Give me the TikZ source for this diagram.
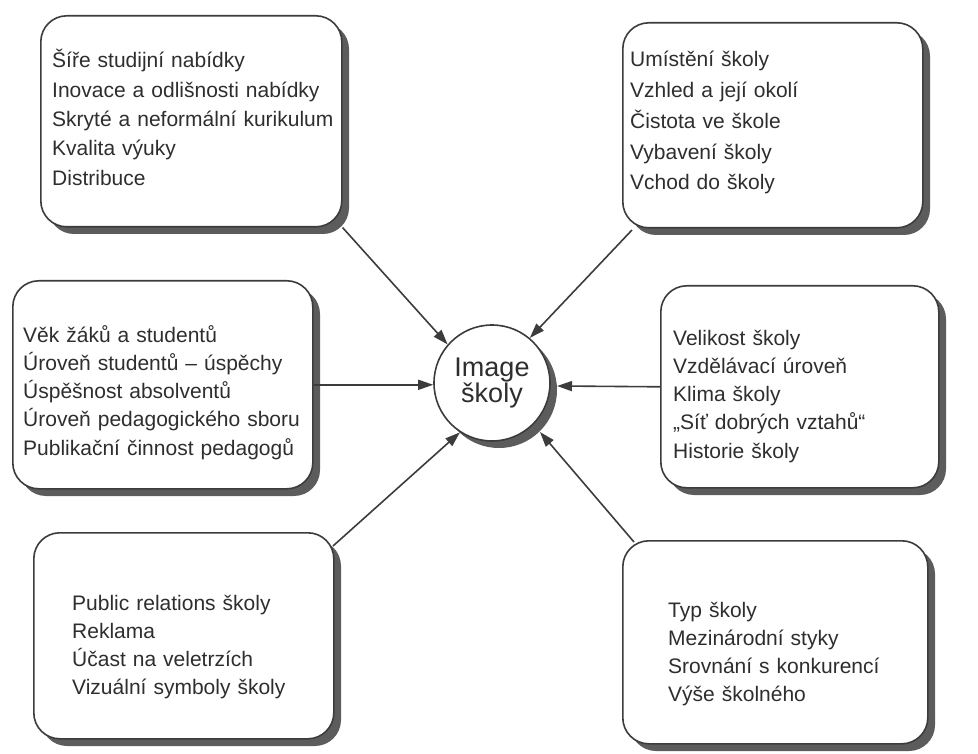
\documentclass[tikz,border=0pt]{standalone}
\usepackage{fontspec}
\setmainfont{Liberation Sans}
\usetikzlibrary{arrows.meta}
\definecolor{ink}{HTML}{2E2E2E}
\definecolor{edgegray}{HTML}{3C3C3C}
\definecolor{dropgray}{HTML}{5C5C5C}
\begin{document}
\begin{tikzpicture}[x=1pt,y=-1pt,
  boxframe/.style={draw=edgegray, line width=1.6pt, fill=white, rounded corners=26pt, anchor=north west, inner sep=0pt},
  txt/.style={anchor=base west, inner sep=0pt, text width=320pt, align=left, font=\fontsize{21}{#1}\selectfont, text=ink},
  arr/.style={draw=edgegray, line width=1.6pt, -{Triangle[length=15pt,width=10pt]}},
]
\useasboundingbox (0,0) rectangle (978,754);

% drop shadows first
\fill[dropgray, rounded corners=26pt] (48,23) rectangle (349,234);
\fill[dropgray, rounded corners=26pt] (630,30) rectangle (930,235);
\fill[dropgray, rounded corners=26pt] (20,288) rectangle (320,496);
\fill[dropgray, rounded corners=26pt] (668,293) rectangle (946,495);
\fill[dropgray, rounded corners=26pt] (41,540) rectangle (341,746);
\fill[dropgray, rounded corners=26pt] (630,548) rectangle (935,751);
\fill[dropgray] (499,390) circle[radius=58pt];

% boxes
\node[boxframe, minimum width=301pt, minimum height=211pt] (b1) at (40,15) {};
\node[txt=29.3pt] (t1) at (52,68) {Šíře studijní nabídky\\Inovace a odlišnosti nabídky\\Skryté a neformální kurikulum\\Kvalita výuky\\Distribuce};

\node[boxframe, minimum width=300pt, minimum height=205pt] (b2) at (622,22) {};
\node[txt=30.7pt] (t2) at (630,67) {Umístění školy\\Vzhled a její okolí\\Čistota ve škole\\Vybavení školy\\Vchod do školy};

\node[boxframe, minimum width=300pt, minimum height=208pt] (b3) at (12,280) {};
\node[txt=28.3pt] (t3) at (23,342) {Věk žáků a studentů\\Úroveň studentů – úspěchy\\Úspěšnost absolventů\\Úroveň pedagogického sboru\\Publikační činnost pedagogů};

\node[boxframe, minimum width=278pt, minimum height=202pt] (b4) at (660,285) {};
\node[txt=28.3pt] (t4) at (673,345) {Velikost školy\\Vzdělávací úroveň\\Klima školy\\„Síť dobrých vztahů“\\Historie školy};

\node[boxframe, minimum width=300pt, minimum height=206pt] (b5) at (33,532) {};
\node[txt=28.3pt] (t5) at (72,610) {Public relations školy\\Reklama\\Účast na veletrzích\\Vizuální symboly školy};

\node[boxframe, minimum width=305pt, minimum height=203pt] (b6) at (622,540) {};
\node[txt=28.3pt] (t6) at (668,617) {Typ školy\\Mezinárodní styky\\Srovnání s konkurencí\\Výše školného};

% centre
\node[circle, draw=edgegray, line width=1.6pt, fill=white, minimum size=116pt, inner sep=0pt,
      align=center, text=ink, font=\fontsize{27}{25}\selectfont] (circ) at (492,383) {Image\\školy};

% connector end points
\coordinate (s2) at (632,230);
\coordinate (e4) at (557,386);
\coordinate (s5) at (333,546);
\coordinate (s6) at (634,542);
\coordinate (e6) at (540,432);

% connectors
\draw[arr] (b1.south east) -- (circ.139);
\draw[arr] (s2) -- (circ.50);
\draw[arr] (b3.east) -- (b3.east -| circ.west);
\draw[arr] (b4.west) -- (e4);
\draw[arr] (s5) -- (circ.237);
\draw[arr] (s6) -- (e6);
\end{tikzpicture}
\end{document}
